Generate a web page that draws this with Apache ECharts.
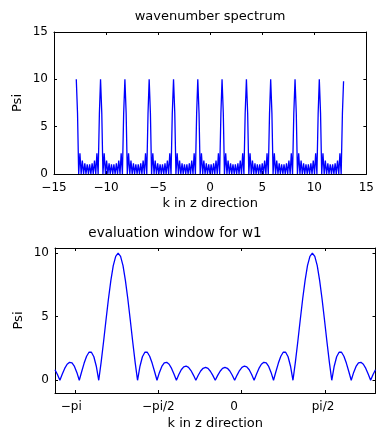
<!DOCTYPE html>
<html><head><meta charset="utf-8">
<script src="https://cdn.jsdelivr.net/npm/echarts@6/dist/echarts.min.js"></script>
<style>html,body{margin:0;padding:0;background:#fff}#c{width:377px;height:432px}</style>
</head><body><div id="c"></div>
<script>
// ---- top panel: wavenumber spectrum ----
const topK = [
-12.86, -12.74, -12.63, -12.51, -12.39, -12.28, -12.16, -12.04, -11.93, -11.81, -11.69, -11.58, -11.46, -11.34, -11.23, -11.11, -10.99, -10.88, -10.76, -10.64,
-10.53, -10.41, -10.30, -10.18, -10.06, -9.95, -9.83, -9.71, -9.60, -9.48, -9.36, -9.25, -9.13, -9.01, -8.90, -8.78, -8.66, -8.55, -8.43, -8.31,
-8.19, -8.07, -7.96, -7.84, -7.72, -7.61, -7.49, -7.37, -7.26, -7.14, -7.02, -6.91, -6.79, -6.67, -6.56, -6.44, -6.32, -6.21, -6.09, -5.97,
-5.86, -5.74, -5.63, -5.51, -5.39, -5.28, -5.16, -5.04, -4.93, -4.81, -4.69, -4.58, -4.46, -4.34, -4.23, -4.11, -3.99, -3.88, -3.76, -3.64,
-3.52, -3.40, -3.29, -3.17, -3.05, -2.94, -2.82, -2.70, -2.59, -2.47, -2.35, -2.24, -2.12, -2.00, -1.89, -1.77, -1.65, -1.54, -1.42, -1.30,
-1.19, -1.07, -0.96, -0.84, -0.72, -0.61, -0.49, -0.37, -0.26, -0.14, -0.02, 0.09, 0.21, 0.33, 0.44, 0.56, 0.68, 0.79, 0.91, 1.03,
1.14, 1.26, 1.37, 1.49, 1.61, 1.72, 1.84, 1.96, 2.07, 2.19, 2.31, 2.42, 2.54, 2.66, 2.77, 2.89, 3.01, 3.12, 3.24, 3.36,
3.48, 3.60, 3.71, 3.83, 3.95, 4.06, 4.18, 4.30, 4.41, 4.53, 4.65, 4.76, 4.88, 5.00, 5.11, 5.23, 5.35, 5.46, 5.58, 5.70,
5.81, 5.93, 6.04, 6.16, 6.28, 6.39, 6.51, 6.63, 6.74, 6.86, 6.98, 7.09, 7.21, 7.33, 7.44, 7.56, 7.68, 7.79, 7.91, 8.03,
8.15, 8.27, 8.38, 8.50, 8.62, 8.73, 8.85, 8.97, 9.08, 9.20, 9.32, 9.43, 9.55, 9.67, 9.78, 9.90, 10.02, 10.13, 10.25, 10.37,
10.48, 10.60, 10.71, 10.83, 10.95, 11.06, 11.18, 11.30, 11.41, 11.53, 11.65, 11.76, 11.88, 12.00, 12.11, 12.23, 12.35, 12.46, 12.58, 12.70,
12.81
];
const topPsi = [
10, 6.39, 0, 2.2, 0, 1.41, 0, 1.12, 0, 1.01, 0, 1.01, 0, 1.12, 0, 1.41, 0, 2.2, 0, 6.39,
10, 6.39, 0, 2.2, 0, 1.41, 0, 1.12, 0, 1.01, 0, 1.01, 0, 1.12, 0, 1.41, 0, 2.2, 0, 6.39,
10, 6.39, 0, 2.2, 0, 1.41, 0, 1.12, 0, 1.01, 0, 1.01, 0, 1.12, 0, 1.41, 0, 2.2, 0, 6.39,
10, 6.39, 0, 2.2, 0, 1.41, 0, 1.12, 0, 1.01, 0, 1.01, 0, 1.12, 0, 1.41, 0, 2.2, 0, 6.39,
10, 6.39, 0, 2.2, 0, 1.41, 0, 1.12, 0, 1.01, 0, 1.01, 0, 1.12, 0, 1.41, 0, 2.2, 0, 6.39,
10, 6.39, 0, 2.2, 0, 1.41, 0, 1.12, 0, 1.01, 0, 1.01, 0, 1.12, 0, 1.41, 0, 2.2, 0, 6.39,
10, 6.39, 0, 2.2, 0, 1.41, 0, 1.12, 0, 1.01, 0, 1.01, 0, 1.12, 0, 1.41, 0, 2.2, 0, 6.39,
10, 6.39, 0, 2.2, 0, 1.41, 0, 1.12, 0, 1.01, 0, 1.01, 0, 1.12, 0, 1.41, 0, 2.2, 0, 6.39,
10, 6.39, 0, 2.2, 0, 1.41, 0, 1.12, 0, 1.01, 0, 1.01, 0, 1.12, 0, 1.41, 0, 2.2, 0, 6.39,
10, 6.39, 0, 2.2, 0, 1.41, 0, 1.12, 0, 1.01, 0, 1.01, 0, 1.12, 0, 1.41, 0, 2.2, 0, 6.39,
10, 6.39, 0, 2.2, 0, 1.41, 0, 1.12, 0, 1.01, 0, 1.01, 0, 1.12, 0, 1.41, 0, 2.2, 0, 6.39,
9.8
];

// ---- bottom panel: evaluation window for w1 ----
const bottomK = [
-3.521, -3.475, -3.429, -3.383, -3.338, -3.292, -3.246, -3.200, -3.154, -3.109,
-3.063, -3.017, -2.971, -2.925, -2.880, -2.834, -2.788, -2.742, -2.696, -2.651,
-2.605, -2.559, -2.513, -2.467, -2.422, -2.376, -2.330, -2.284, -2.238, -2.193,
-2.147, -2.101, -2.055, -2.009, -1.964, -1.918, -1.872, -1.826, -1.780, -1.735,
-1.689, -1.643, -1.597, -1.551, -1.506, -1.460, -1.414, -1.368, -1.322, -1.277,
-1.231, -1.185, -1.139, -1.093, -1.048, -1.002, -0.956, -0.910, -0.864, -0.819,
-0.773, -0.727, -0.681, -0.635, -0.590, -0.544, -0.498, -0.452, -0.406, -0.361,
-0.315, -0.269, -0.223, -0.177, -0.132, -0.086, -0.040, 0.006, 0.052, 0.097,
0.143, 0.189, 0.235, 0.281, 0.326, 0.372, 0.418, 0.464, 0.510, 0.555,
0.601, 0.647, 0.693, 0.739, 0.784, 0.830, 0.876, 0.922, 0.968, 1.013,
1.059, 1.105, 1.151, 1.197, 1.242, 1.288, 1.334, 1.380, 1.426, 1.471,
1.517, 1.563, 1.609, 1.655, 1.700, 1.746, 1.792, 1.838, 1.884, 1.929,
1.975, 2.021, 2.067, 2.113, 2.158, 2.204, 2.250, 2.296, 2.342, 2.387,
2.433, 2.479, 2.525
];
const bottomPsi = [
0.829, 0.460, 0, 0.487, 0.930, 1.258, 1.414, 1.361, 1.089, 0.618,
0, 0.689, 1.353, 1.891, 2.203, 2.207, 1.848, 1.106, 0, 1.410,
3.029, 4.736, 6.392, 7.860, 9.012, 9.747, 10, 9.747, 9.012, 7.860,
6.392, 4.736, 3.029, 1.410, 0, 1.106, 1.848, 2.207, 2.203, 1.891,
1.353, 0.689, 0, 0.618, 1.089, 1.361, 1.414, 1.258, 0.930, 0.487,
0, 0.460, 0.829, 1.059, 1.122, 1.017, 0.765, 0.408, 0, 0.398,
0.727, 0.942, 1.012, 0.930, 0.709, 0.383, 0, 0.383, 0.709, 0.930,
1.012, 0.942, 0.727, 0.398, 0, 0.408, 0.765, 1.017, 1.122, 1.059,
0.829, 0.460, 0, 0.487, 0.930, 1.258, 1.414, 1.361, 1.089, 0.618,
0, 0.689, 1.353, 1.891, 2.203, 2.207, 1.848, 1.106, 0, 1.410,
3.029, 4.736, 6.392, 7.860, 9.012, 9.747, 10, 9.747, 9.012, 7.860,
6.392, 4.736, 3.029, 1.410, 0, 1.106, 1.848, 2.207, 2.203, 1.891,
1.353, 0.689, 0, 0.618, 1.089, 1.361, 1.414, 1.258, 0.930, 0.487,
0, 0.460, 0.829
];

const bottomTickValues = [-3.14159, -1.5708, 0, 1.5708];
const bottomTickLabels = ['\u2212pi\u00a0\u00a0', '\u2212pi/2', '0\u00a0\u00a0\u00a0\u00a0', 'pi/2\u00a0'];
const bottomYTicks = [0, 5, 10];
const titles = ['wavenumber spectrum', 'evaluation window for w1'];
const xName = 'k in z direction';
const yName = 'Psi';

const FONT = '"DejaVu Sans"';
const BLUE = '#0000ff';
function minus(v) { return v < 0 ? '\u2212' + (-v) : String(v); }
function pairs(xs, ys) { return xs.map((x, i) => [x, ys[i]]); }
function bottomLabel(v) {
  for (let i = 0; i < bottomTickValues.length; i++) {
    if (Math.abs(bottomTickValues[i] - v) < 1e-3) return bottomTickLabels[i];
  }
  return '';
}

const axisLine = { show: true, onZero: false, lineStyle: { color: '#000', width: 1 } };
const tick = { show: true, inside: true, length: 3, lineStyle: { color: '#000', width: 1 } };
const lbl = { color: '#000', fontFamily: FONT, fontSize: 12 };
const nameStyle = { color: '#000', fontFamily: FONT, fontSize: 13 };
const noSplit = { show: false };

const chart = echarts.init(document.getElementById('c'), null, { renderer: 'canvas' });
chart.setOption({
  animation: false,
  backgroundColor: '#fff',
  grid: [
    { left: 54, right: 9, top: 32, height: 142, containLabel: false },
    { left: 55, right: 1.5, top: 248, height: 145, containLabel: false }
  ],
  xAxis: [
    { gridIndex: 0, type: 'value', min: -15, max: 15, interval: 5, position: 'bottom',
      axisLine, axisTick: tick, splitLine: noSplit,
      axisLabel: { ...lbl, margin: 8, formatter: minus },
      name: xName, nameLocation: 'middle', nameGap: 23, nameTextStyle: nameStyle, nameMoveOverlap: false },
    { gridIndex: 0, type: 'value', min: -15, max: 15, interval: 5, position: 'top',
      axisLine, axisTick: tick, splitLine: noSplit, axisLabel: { show: false } },
    { gridIndex: 1, type: 'value', min: -3.521, max: 2.525, position: 'bottom',
      axisLine, axisTick: { ...tick, customValues: bottomTickValues }, splitLine: noSplit,
      axisLabel: { ...lbl, margin: 8, customValues: bottomTickValues, formatter: bottomLabel },
      name: xName, nameLocation: 'middle', nameGap: 24, nameTextStyle: nameStyle, nameMoveOverlap: false },
    { gridIndex: 1, type: 'value', min: -3.521, max: 2.525, position: 'top',
      axisLine, axisTick: { ...tick, customValues: bottomTickValues }, splitLine: noSplit,
      axisLabel: { show: false, customValues: bottomTickValues } }
  ],
  yAxis: [
    { gridIndex: 0, type: 'value', min: 0, max: 15, interval: 5, position: 'left',
      axisLine, axisTick: tick, splitLine: noSplit,
      axisLabel: { ...lbl, margin: 6 },
      name: yName, nameLocation: 'middle', nameGap: 30, nameTextStyle: nameStyle, nameMoveOverlap: false },
    { gridIndex: 0, type: 'value', min: 0, max: 15, interval: 5, position: 'right',
      axisLine, axisTick: tick, splitLine: noSplit, axisLabel: { show: false } },
    { gridIndex: 1, type: 'value', min: -1, max: 10.4, position: 'left',
      axisLine, axisTick: { ...tick, customValues: bottomYTicks }, splitLine: noSplit,
      axisLabel: { ...lbl, margin: 6, customValues: bottomYTicks },
      name: yName, nameLocation: 'middle', nameGap: 30, nameTextStyle: nameStyle, nameMoveOverlap: false },
    { gridIndex: 1, type: 'value', min: -1, max: 10.4, position: 'right',
      axisLine, axisTick: { ...tick, customValues: bottomYTicks }, splitLine: noSplit,
      axisLabel: { show: false, customValues: bottomYTicks } }
  ],
  graphic: [
    { type: 'text', x: 210, y: 17, silent: true,
      style: { text: titles[0], font: '13px "DejaVu Sans"', fill: '#000', align: 'center', verticalAlign: 'middle' } },
    { type: 'text', x: 175, y: 233, silent: true,
      style: { text: titles[1], font: '13.5px "DejaVu Sans"', fill: '#000', align: 'center', verticalAlign: 'middle' } }
  ],
  series: [
    { type: 'line', xAxisIndex: 0, yAxisIndex: 0, data: pairs(topK, topPsi),
      showSymbol: false, symbol: 'none', sampling: null, clip: true,
      lineStyle: { color: BLUE, width: 1.3 }, itemStyle: { color: BLUE } },
    { type: 'line', xAxisIndex: 2, yAxisIndex: 2, data: pairs(bottomK, bottomPsi),
      showSymbol: false, symbol: 'none', clip: true,
      lineStyle: { color: BLUE, width: 1.3 }, itemStyle: { color: BLUE } }
  ]
});
</script>
</body></html>
